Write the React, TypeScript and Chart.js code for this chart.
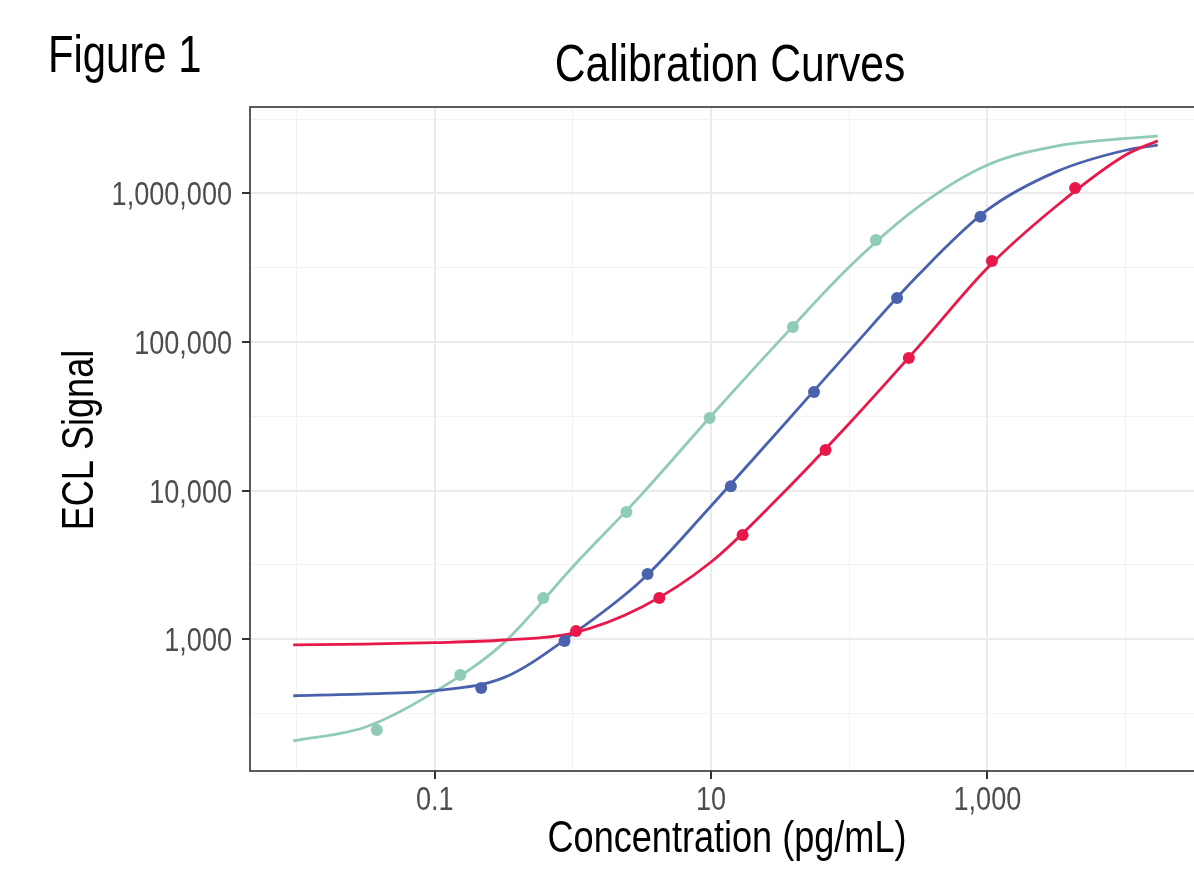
import React, { useEffect, useRef } from 'react';
import { Chart, registerables } from 'chart.js';

Chart.register(...registerables);

const FONT = "'Liberation Sans', Arial, Helvetica, sans-serif";
const NARROW = 0.82; // horizontal squeeze to mimic a narrow Helvetica/Arial

// Fitted calibration curves
const curveX = [0.00946, 0.0316, 0.1, 0.316, 1, 3.16, 10, 31.6, 100, 316, 1000, 3162, 10000, 17100];
const greenCurveY = [207, 257, 443, 946, 3080, 9480, 31800, 103000, 320000, 811000, 1550000, 2080000, 2340000, 2430000];
const blueCurveY = [417, 429, 451, 552, 1086, 2506, 7890, 26000, 86900, 282000, 773000, 1400000, 1950000, 2110000];
const redCurveY = [916, 929, 949, 989, 1102, 1648, 3310, 9200, 28300, 92700, 315000, 822000, 1810000, 2260000];

// Measured calibrator points
const greenX = [0.0381, 0.153, 0.61, 2.44, 9.77, 39.1, 156];
const greenY = [245, 575, 1897, 7180, 30800, 126000, 485000];
const blueX = [0.217, 0.87, 3.47, 13.9, 55.6, 222, 890];
const blueY = [470, 975, 2750, 10700, 46100, 198000, 695000];
const redX = [1.054, 4.22, 16.9, 67.4, 270, 1079, 4316];
const redY = [1137, 1897, 5040, 18800, 78000, 351000, 1087000];

// Axis ticks
const xMajorTicks = [0.1, 10, 1000];
const xMajorLabels = ['0.1', '10', '1,000'];
const xMinorTicks = [0.01, 1, 100, 10000];
const yMajorTicks = [1000, 10000, 100000, 1000000];
const yMajorLabels = ['1,000', '10,000', '100,000', '1,000,000'];
const yMinorTicks = [10 ** 2.5, 10 ** 3.5, 10 ** 4.5, 10 ** 5.5, 10 ** 6.5];

const X_MIN = 10 ** -2.337;
const X_MAX = 10 ** 4.546;
const Y_MIN = 10 ** 2.114;
const Y_MAX = 10 ** 6.581;

const GREEN = '#8fcbb5';
const BLUE = '#4a62ae';
const RED = '#e8184b';

const near = (a: number, b: number) => Math.abs(Math.log10(a) - Math.log10(b)) < 1e-6;
const isMajor = (v: number, list: number[]) => list.some((t) => near(t, v));

const pts = (xs: number[], ys: number[]) => xs.map((x, i) => ({ x, y: ys[i] }));

function narrowText(
  ctx: CanvasRenderingContext2D,
  text: string,
  x: number,
  y: number,
  size: number,
  color: string,
  align: CanvasTextAlign,
  rotate = 0
) {
  ctx.save();
  ctx.translate(x, y);
  if (rotate) ctx.rotate(rotate);
  ctx.scale(NARROW, 1);
  ctx.font = `${size}px ${FONT}`;
  ctx.fillStyle = color;
  ctx.textAlign = align;
  ctx.textBaseline = 'alphabetic';
  ctx.fillText(text, 0, 0);
  ctx.restore();
}

const decor = {
  id: 'decor',
  afterDatasetsDraw(chart: any) {
    const { ctx, chartArea: a } = chart;
    ctx.save();
    ctx.strokeStyle = '#333333';
    ctx.lineWidth = 1.6;
    ctx.strokeRect(a.left, a.top, a.right - a.left, a.bottom - a.top);
    ctx.restore();
  },
  afterDraw(chart: any) {
    const { ctx, chartArea: a } = chart;
    const xs = chart.scales.x;
    const ys = chart.scales.y;

    xMajorTicks.forEach((t, i) => {
      narrowText(ctx, xMajorLabels[i], xs.getPixelForValue(t), a.bottom + 39, 33, '#4d4d4d', 'center');
    });
    yMajorTicks.forEach((t, i) => {
      narrowText(ctx, yMajorLabels[i], a.left - 18, ys.getPixelForValue(t) + 12, 33, '#4d4d4d', 'right');
    });

    narrowText(ctx, 'Figure 1', 48, 72, 51, '#000000', 'left');
    narrowText(ctx, 'Calibration Curves', 730, 81, 52, '#000000', 'center');
    narrowText(ctx, 'Concentration (pg/mL)', 727, 852, 44, '#000000', 'center');
    narrowText(ctx, 'ECL Signal', 93, 440, 44, '#000000', 'center', -Math.PI / 2);
  },
};

export default function App() {
  const ref = useRef<HTMLCanvasElement | null>(null);

  useEffect(() => {
    document.body.style.margin = '0';
    const canvas = ref.current;
    if (!canvas) return;

    const lineDs = (ys: number[], color: string, order: number) => ({
      data: pts(curveX, ys),
      showLine: true,
      borderColor: color,
      backgroundColor: color,
      borderWidth: 2.8,
      pointRadius: 0,
      cubicInterpolationMode: 'monotone' as const,
      order,
    });
    const pointDs = (xs: number[], ys: number[], color: string) => ({
      data: pts(xs, ys),
      showLine: false,
      backgroundColor: color,
      borderColor: color,
      borderWidth: 0,
      pointRadius: 6,
      order: 0,
    });

    const gridOpts = (majors: number[]) => ({
      drawOnChartArea: true,
      drawTicks: true,
      tickLength: 8,
      color: (c: any) => (c.tick && isMajor(c.tick.value, majors) ? '#ebebeb' : '#f2f2f2'),
      lineWidth: (c: any) => (c.tick && isMajor(c.tick.value, majors) ? 2 : 1),
      tickColor: (c: any) => (c.tick && isMajor(c.tick.value, majors) ? '#333333' : 'rgba(0,0,0,0)'),
      tickWidth: 2,
    });

    const chart = new Chart(canvas, {
      type: 'scatter',
      data: {
        datasets: [
          lineDs(greenCurveY, GREEN, 3),
          lineDs(blueCurveY, BLUE, 2),
          lineDs(redCurveY, RED, 1),
          pointDs(greenX, greenY, GREEN),
          pointDs(blueX, blueY, BLUE),
          pointDs(redX, redY, RED),
        ],
      },
      options: {
        responsive: false,
        animation: false,
        devicePixelRatio: 1,
        layout: { padding: { left: 0, top: 107, right: 9, bottom: 0 } },
        plugins: {
          legend: { display: false },
          tooltip: { enabled: false },
          title: { display: false },
        },
        scales: {
          x: {
            type: 'logarithmic',
            min: X_MIN,
            max: X_MAX,
            bounds: 'data',
            afterBuildTicks: (scale: any) => {
              scale.ticks = [...xMinorTicks, ...xMajorTicks]
                .sort((a, b) => a - b)
                .map((v) => ({ value: v, major: false }));
            },
            afterFit: (scale: any) => {
              scale.height = 103;
            },
            border: { display: false },
            grid: gridOpts(xMajorTicks),
            ticks: { display: false, autoSkip: false, maxRotation: 0, minRotation: 0 },
          },
          y: {
            type: 'logarithmic',
            min: Y_MIN,
            max: Y_MAX,
            bounds: 'data',
            afterBuildTicks: (scale: any) => {
              scale.ticks = [...yMinorTicks, ...yMajorTicks]
                .sort((a, b) => a - b)
                .map((v) => ({ value: v, major: false }));
            },
            afterFit: (scale: any) => {
              scale.width = 250;
            },
            border: { display: false },
            grid: gridOpts(yMajorTicks),
            ticks: { display: false, autoSkip: false },
          },
        },
      },
      plugins: [decor],
    });

    return () => chart.destroy();
  }, []);

  return (
    <div
      style={{
        position: 'absolute',
        left: 0,
        top: 0,
        width: 1194,
        height: 874,
        overflow: 'hidden',
        background: '#ffffff',
      }}
    >
      <canvas ref={ref} width={1210} height={874} style={{ display: 'block', width: 1210, height: 874 }} />
    </div>
  );
}
